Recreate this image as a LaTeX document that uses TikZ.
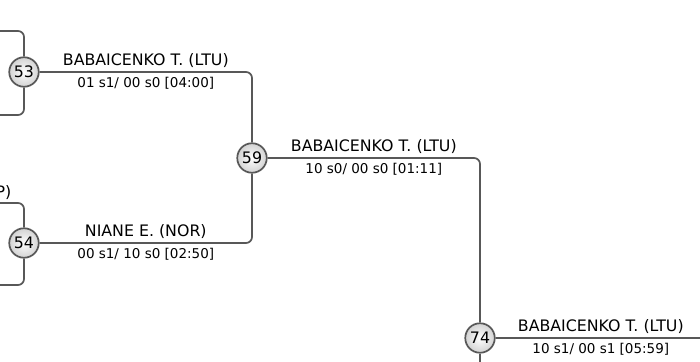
\documentclass[tikz,border=0pt]{standalone}
\usepackage{fontspec}
\setmainfont{DejaVu Sans}
\definecolor{wire}{RGB}{88,88,88}
\tikzset{
  bout/.style={circle, draw=wire, line width=1.7pt, minimum size=29.5pt, inner sep=0pt,
    inner color=white, outer color=gray!35, font=\fontsize{15.8}{16}\selectfont},
  link/.style={draw=wire, line width=1.7pt, rounded corners=6pt},
  winner/.style={above, font=\fontsize{15.8}{16}\selectfont, inner sep=3.5pt},
  score/.style={below, font=\fontsize{13.5}{14}\selectfont, inner sep=4.5pt},
}
\begin{document}
\begin{tikzpicture}[x=1pt, y=-1pt]
\useasboundingbox (0,0) rectangle (700,361);
\clip (0,0) rectangle (700,361);
% Bouts
\node[bout] (m53) at (24,72) {53};
\node[bout] (m54) at (24,243) {54};
\node[bout] (m59) at (252,158) {59};
\node[bout] (m74) at (480,338) {74};
% Loose ends outside the frame
\coordinate (in53a) at (-20,31);
\coordinate (in53b) at (-20,115);
\coordinate (in54a) at (-20,203);
\coordinate (in54b) at (-20,285);
\coordinate (out74) at (706,420);
\coordinate (low74) at (480,380);
% Feeds into 53 and 54
\draw[link] (in53a) -| (m53);
\draw[link] (in53b) -| (m53);
\draw[link] (in54a) -| (m54);
\draw[link] (in54b) -| (m54);
\node[winner, anchor=south east] (cut54) at (15,203) {P)};
% Round 2
\draw[link] (m53) -| (m59)
    node[winner, pos=0.25] (w53) {BABAICENKO T. (LTU)}
    node[score, pos=0.25] (s53) {01 s1/ 00 s0 [04:00]};
\draw[link] (m54) -| (m59)
    node[winner, pos=0.25] (w54) {NIANE E. (NOR)}
    node[score, pos=0.25] (s54) {00 s1/ 10 s0 [02:50]};
% Round 3
\draw[link] (m59) -| (m74)
    node[winner, pos=0.25] (w59) {BABAICENKO T. (LTU)}
    node[score, pos=0.25] (s59) {10 s0/ 00 s0 [01:11]};
\draw[link] (low74) -- (m74);
% Round 4
\draw[link] (m74) -| (out74)
    node[winner, pos=0.25] (w74) {BABAICENKO T. (LTU)}
    node[score, pos=0.25] (s74) {10 s1/ 00 s1 [05:59]};
\end{tikzpicture}
\end{document}
